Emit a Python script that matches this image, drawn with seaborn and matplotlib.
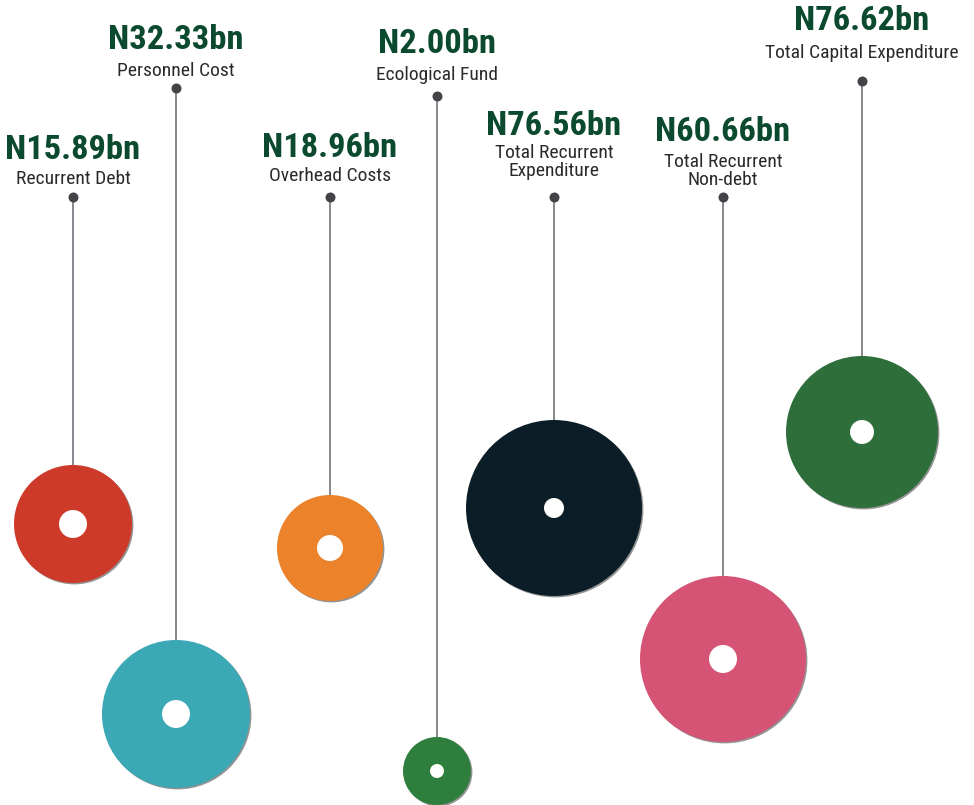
import pandas as pd
import numpy as np
import seaborn as sns
import matplotlib.pyplot as plt
import matplotlib.patheffects as pe

# values (N bn) and their captions
labels = ["Recurrent Debt", "Personnel Cost", "Overhead Costs", "Ecological Fund",
          "Total Recurrent\nExpenditure", "Total Recurrent\nNon-debt", "Total Capital Expenditure"]
values = [15.89, 32.33, 18.96, 2.00, 76.56, 60.66, 76.62]

# layout in pixels (y down)
xpos = [73, 176, 330, 437, 554, 723, 862]
pin_y = [197, 88, 197, 96, 197, 197, 81]
disc_y = [524, 714, 548, 771, 508, 659, 432]
radius = [59, 74, 53, 34, 88, 83, 76]
hole = [14, 14, 13, 7, 10, 14, 12]
value_y = [150, 40, 148, 44, 126, 132, 21]
label_y = [179, 71, 176, 75, 162, 171, 53]
colors = ["#cd3a2a", "#3aa8b5", "#ec8229", "#2e7f3e", "#0b1e27", "#d55476", "#2d6e3a"]

df = pd.DataFrame({"label": labels, "value": values, "x": xpos, "pin": pin_y,
                   "disc": disc_y, "r": radius, "hole": hole})
df["top"] = df["disc"] - df["r"]

sns.set_theme(style="white")
plt.rcParams["font.family"] = ["Roboto Condensed", "Liberation Sans Narrow", "Roboto", "DejaVu Sans"]

fig = plt.figure(figsize=(9.74, 8.05), dpi=100)
ax = fig.add_axes([0, 0, 1, 1])

px = 0.72  # points per pixel at 100 dpi

# strings
ax.vlines(df["x"], df["pin"], df["top"] + 2, color="#8a8a90", linewidth=2 * px, zorder=1)
sns.scatterplot(data=df, x="x", y="pin", color="#444448", s=(10 * px) ** 2,
                linewidth=0, ax=ax, zorder=3, legend=False)

# discs
sizes = {l: (2 * r * px) ** 2 for l, r in zip(labels, radius)}
sns.scatterplot(data=df, x="x", y="disc", hue="label", palette=colors, size="label",
                sizes=sizes, linewidth=0, ax=ax, zorder=2, legend=False)
ax.collections[-1].set_path_effects([pe.SimplePatchShadow(offset=(1.0, -1.0), shadow_rgbFace="#666666", alpha=0.7),
                                     pe.Normal()])
hsizes = {l: (2 * h * px) ** 2 for l, h in zip(labels, hole)}
sns.scatterplot(data=df, x="x", y="disc", color="white", size="label", sizes=hsizes,
                linewidth=0, ax=ax, zorder=4, legend=False)

# text
for i, row in df.iterrows():
    ax.text(row["x"], value_y[i], f"N{row['value']:.2f}bn", ha="center", va="center",
            fontsize=34.5 * px, fontweight="bold", color="#0b4a2f", zorder=5)
    ax.text(row["x"], label_y[i], row["label"], ha="center", va="center",
            fontsize=19.5 * px, color="#2a2a2a", linespacing=0.95, zorder=5)

ax.set_xlim(0, 974)
ax.set_ylim(805, 0)
ax.set_axis_off()

fig.savefig("out.png", dpi=100)
